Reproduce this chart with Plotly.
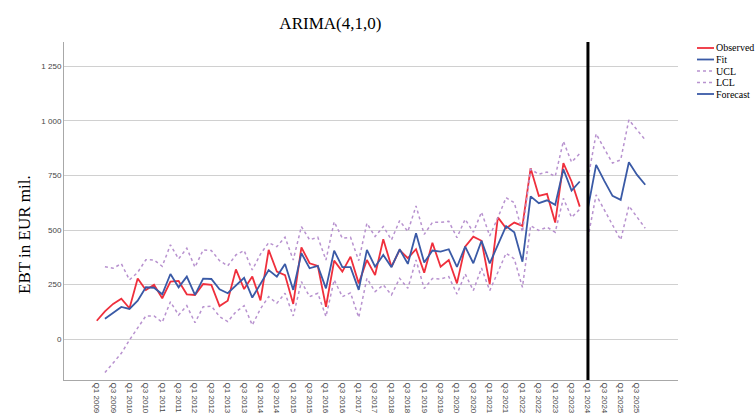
import plotly.graph_objects as go

# Quarter categories Q1 2009 .. Q4 2025
quarters = [f"Q{q} {y}" for y in range(2009, 2026) for q in (1, 2, 3, 4)]
tick_labels = quarters[::2]

observed = [85, 128, 162, 186, 142, 278, 226, 250, 188, 264,
            267, 206, 203, 253, 249, 152, 177, 320, 230, 287,
            178, 409, 310, 294, 162, 421, 348, 336, 149, 360,
            310, 378, 256, 363, 294, 458, 332, 409, 371, 412,
            305, 442, 332, 363, 256, 424, 470, 451, 253, 558,
            508, 534, 519, 783, 656, 665, 534, 806, 722, 607]

fit = [94, 122, 148, 139, 177, 238, 236, 206, 299,
       238, 287, 203, 278, 276, 229, 211, 246, 281, 191,
       251, 317, 287, 345, 226, 394, 325, 336, 233, 406,
       330, 330, 226, 409, 332, 386, 330, 412, 345, 485,
       351, 406, 401, 412, 331, 424, 348, 451, 347, 432,
       518, 490, 355, 654, 623, 636, 615, 778, 680, 722]

ucl = [332, 325, 346, 272, 306, 364, 363, 334, 432,
       368, 417, 330, 409, 406, 360, 336, 386, 406, 317,
       390, 442, 424, 467, 363, 516, 455, 467, 363, 538,
       462, 467, 360, 531, 470, 516, 455, 543, 493, 610,
       480, 535, 535, 540, 465, 549, 490, 582, 473, 557,
       648, 625, 490, 778, 755, 765, 745, 906, 810, 850]

lcl = [-152, -107, -64, -3, 53, 107, 107, 78, 172,
       111, 154, 76, 149, 152, 104, 81, 126, 154, 65,
       140, 195, 165, 211, 107, 264, 195, 211, 104, 272,
       195, 213, 100, 279, 218, 249, 203, 279, 233, 363,
       232, 278, 276, 287, 207, 299, 223, 326, 223, 307,
       394, 368, 238, 520, 498, 513, 490, 645, 558, 595]

forecast = [600, 798, 725, 656, 638, 810, 752, 707]
fc_ucl = [735, 940, 872, 806, 821, 1004, 958, 912]
fc_lcl = [465, 661, 592, 523, 455, 610, 561, 508]

x_obs = quarters[:len(observed)]
x_fit = quarters[1:1 + len(fit)]
x_fc = quarters[60:60 + len(forecast)]
forecast_start = "Q1 2024"

legend_names = ["Observed", "Fit", "UCL", "LCL", "Forecast"]

RED = "#ef2f3c"
BLUE = "#3a5aa6"
LAV = "#b892cf"
SERIF = "Liberation Serif"

styles = {
    "Observed": dict(color=RED, width=1.8),
    "Fit": dict(color=BLUE, width=1.8),
    "UCL": dict(color=LAV, width=1.5, dash="dot"),
    "LCL": dict(color=LAV, width=1.5, dash="dot"),
    "Forecast": dict(color=BLUE, width=1.8),
}

fig = go.Figure()
fig.add_trace(go.Scatter(x=x_obs, y=observed, mode="lines", name="Observed",
                         line=styles["Observed"]))
fig.add_trace(go.Scatter(x=x_fit, y=fit, mode="lines", name="Fit", line=styles["Fit"]))
fig.add_trace(go.Scatter(x=x_fit, y=ucl, mode="lines", name="UCL", line=styles["UCL"]))
fig.add_trace(go.Scatter(x=x_fit, y=lcl, mode="lines", name="LCL", line=styles["LCL"]))
fig.add_trace(go.Scatter(x=x_fc, y=forecast, mode="lines", name="Forecast",
                         line=styles["Forecast"]))
fig.add_trace(go.Scatter(x=x_fc, y=fc_ucl, mode="lines", name="UCL", line=styles["UCL"]))
fig.add_trace(go.Scatter(x=x_fc, y=fc_lcl, mode="lines", name="LCL", line=styles["LCL"]))

# forecast origin marker
fig.add_shape(type="line", xref="x", yref="paper", x0=forecast_start, x1=forecast_start,
              y0=0, y1=1, line=dict(color="black", width=3))

# compact legend (SPSS style) at the top right
for i, name in enumerate(legend_names):
    yy = 48 + i * 11.5
    fig.add_shape(type="line", xref="paper", yref="paper",
                  x0=(697 - 64) / 614, x1=(714 - 64) / 614,
                  y0=(380 - yy) / 338, y1=(380 - yy) / 338,
                  line=styles[name])
    fig.add_annotation(text=name, xref="paper", yref="paper",
                       x=(714 - 64) / 614, y=(380 - yy) / 338,
                       xanchor="left", yanchor="middle", showarrow=False,
                       font=dict(family=SERIF, size=10, color="black"))

# y axis title
fig.add_annotation(text="EBT in EUR mil.", xref="paper", yref="paper",
                   x=(25 - 64) / 614, y=(380 - 235) / 338, textangle=-90,
                   xanchor="center", yanchor="middle", showarrow=False,
                   font=dict(family=SERIF, size=17, color="black"))

fig.update_layout(
    width=756, height=416,
    margin=dict(l=64, r=78, t=42, b=36, autoexpand=False),
    paper_bgcolor="white", plot_bgcolor="white",
    separators=". ",
    showlegend=False,
    title=dict(text="ARIMA(4,1,0)", x=0.437, xanchor="center", y=0.945, yanchor="middle",
               font=dict(family=SERIF, size=17, color="black")),
    xaxis=dict(type="category", categoryorder="array", categoryarray=quarters,
               range=[-4, 71], tickmode="array", tickvals=tick_labels, ticktext=tick_labels,
               tickangle=90, tickfont=dict(family="Liberation Sans", size=8, color="#444"),
               showgrid=False, showline=True, linecolor="#a8a8a8", linewidth=1,
               ticks="", zeroline=False),
    yaxis=dict(range=[-186, 1360], tickmode="array", tickvals=[0, 250, 500, 750, 1000, 1250],
               separatethousands=True,
               tickfont=dict(family="Liberation Sans", size=8, color="#444"),
               showgrid=True, gridcolor="#d0d0d0", gridwidth=1,
               showline=True, linecolor="#a8a8a8", linewidth=1, zeroline=False,
               ticks="", ticklen=0),
)

fig.write_html("out.html")
